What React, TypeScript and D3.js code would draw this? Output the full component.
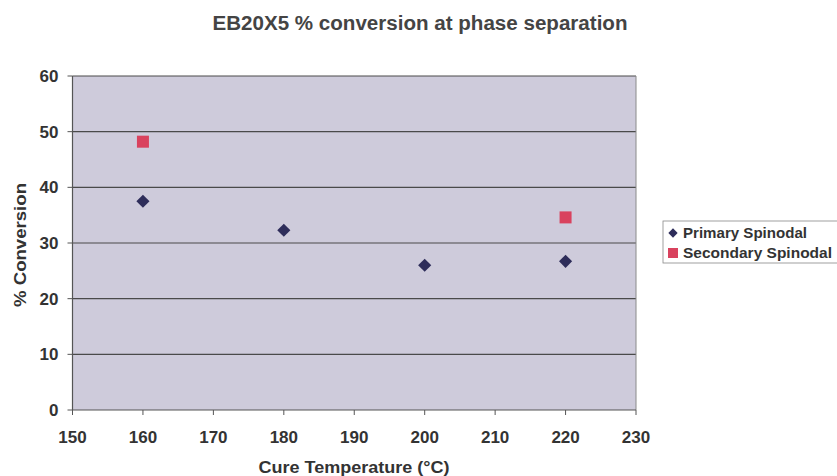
import React from "react";
import * as d3 from "d3";

const primaryX = [160, 180, 200, 220];
const primaryY = [37.5, 32.3, 26.0, 26.7];
const secondaryX = [160, 220];
const secondaryY = [48.2, 34.6];
const xTicks = [150, 160, 170, 180, 190, 200, 210, 220, 230];
const yTicks = [0, 10, 20, 30, 40, 50, 60];

export default function App() {
  const W = 837, H = 476;
  const left = 72.5, right = 636, top = 76, bottom = 410;
  const x = d3.scaleLinear().domain([150, 230]).range([left, right]);
  const y = d3.scaleLinear().domain([0, 60]).range([bottom, top]);
  const font = "'Liberation Sans', Arial, sans-serif";
  const txt = "#333";
  const diamond = d3.symbol().type(d3.symbolDiamond2).size(110)();
  return (
    <svg width={W} height={H} style={{ position: "absolute", left: 0, top: 0, background: "#fff" }}>
      <rect x={left} y={top} width={right - left} height={bottom - top} fill="#cecbdb" />
      {yTicks.filter((t) => t > 0).map((t) => (
        <line key={t} x1={left} x2={right} y1={y(t)} y2={y(t)} stroke="#4a4a4a" strokeWidth={1.2} />
      ))}
      <line x1={right} x2={right} y1={top} y2={bottom} stroke="#8a8a8a" strokeWidth={1} />
      <line x1={left} x2={left} y1={top} y2={bottom} stroke="#555" strokeWidth={1.2} />
      <line x1={left} x2={right} y1={bottom} y2={bottom} stroke="#555" strokeWidth={1.2} />
      {yTicks.map((t) => (
        <g key={t}>
          <line x1={left - 5} x2={left} y1={y(t)} y2={y(t)} stroke="#555" />
          <text x={left - 14} y={y(t)} dy="0.35em" textAnchor="end" fontFamily={font} fontWeight="bold" fontSize={17} fill={txt}>{t}</text>
        </g>
      ))}
      {xTicks.map((t) => (
        <g key={t}>
          <line x1={x(t)} x2={x(t)} y1={bottom} y2={bottom + 5} stroke="#555" />
          <text x={x(t)} y={443} textAnchor="middle" fontFamily={font} fontWeight="bold" fontSize={17} fill={txt}>{t}</text>
        </g>
      ))}
      {primaryX.map((v, i) => (
        <path key={"p" + i} d={diamond!} transform={`translate(${x(v)},${y(primaryY[i])})`} fill="#2e2d5a" />
      ))}
      {secondaryX.map((v, i) => (
        <rect key={"s" + i} x={x(v) - 6} y={y(secondaryY[i]) - 6} width={12} height={12} fill="#d9425e" />
      ))}
      <text x={420} y={30} textAnchor="middle" fontFamily={font} fontWeight="bold" fontSize={19.5} fill="#444" textLength={415} lengthAdjust="spacingAndGlyphs">EB20X5 % conversion at phase separation</text>
      <text transform={`translate(26,245) rotate(-90)`} textAnchor="middle" fontFamily={font} fontWeight="bold" fontSize={17} fill={txt} textLength={124} lengthAdjust="spacingAndGlyphs">% Conversion</text>
      <text x={354} y={473} textAnchor="middle" fontFamily={font} fontWeight="bold" fontSize={17} fill={txt} textLength={191} lengthAdjust="spacingAndGlyphs">Cure Temperature (°C)</text>
      <rect x={663} y={221} width={180} height={42} fill="#fff" stroke="#888" strokeWidth={0.8} />
      <path d={d3.symbol().type(d3.symbolDiamond2).size(55)()!} transform="translate(673,233)" fill="#2e2d5a" />
      <text x={683} y={233} dy="0.35em" fontFamily={font} fontWeight="bold" fontSize={15} fill={txt} textLength={124} lengthAdjust="spacingAndGlyphs">Primary Spinodal</text>
      <rect x={668} y={248} width={10} height={10} fill="#d9425e" />
      <text x={683} y={253} dy="0.35em" fontFamily={font} fontWeight="bold" fontSize={15} fill={txt} textLength={149} lengthAdjust="spacingAndGlyphs">Secondary Spinodal</text>
    </svg>
  );
}
